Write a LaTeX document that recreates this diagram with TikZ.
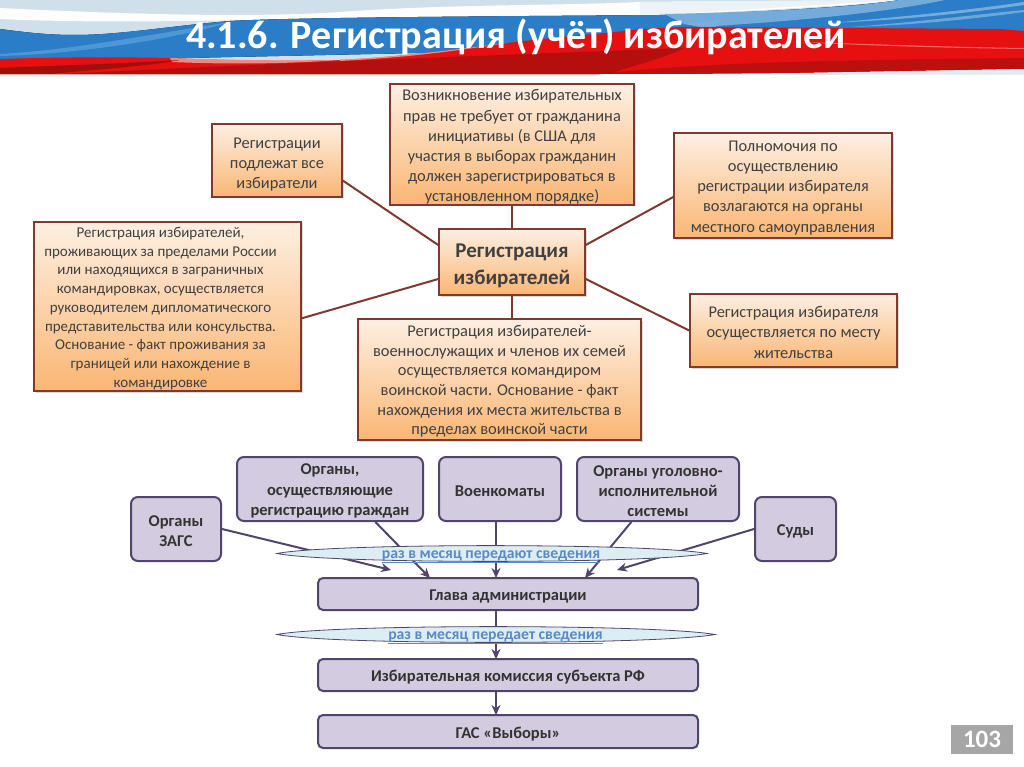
\documentclass[tikz,border=0pt]{standalone}
\usepackage{fontspec}
\setmainfont{Carlito}
\usetikzlibrary{shadows,arrows.meta,calc}
\definecolor{obord}{HTML}{7E3A30}
\definecolor{otop}{HTML}{FDEFE2}
\definecolor{obot}{HTML}{FAB673}
\definecolor{pfill}{HTML}{D3CBDF}
\definecolor{pbord}{HTML}{50456A}
\definecolor{tgray}{HTML}{404040}
\definecolor{lensfill}{HTML}{DCEEF4}
\definecolor{lenstxt}{HTML}{5B8AC4}
\definecolor{bpale}{HTML}{CFE0EA}
\definecolor{bblue}{HTML}{2A7DC6}
\definecolor{blight}{HTML}{6FAEE0}
\definecolor{bred}{HTML}{E5100F}
\definecolor{bdark}{HTML}{8E0F0C}
\definecolor{bpink}{HTML}{F08A80}
\newcommand\LL{\hspace*{-14pt}}
\newcommand\FF[1][15pt]{\rule{0pt}{#1}}
\tikzset{
 obox/.style={draw=obord,line width=1.8pt,top color=otop,bottom color=obot,inner sep=0pt,align=center,text=tgray,
   font=\fontsize{16.4}{20.2}\selectfont,drop shadow={shadow xshift=1.5pt,shadow yshift=-1.5pt,opacity=.3}},
 pbox/.style={draw=pbord,line width=2pt,fill=pfill,rounded corners=7pt,inner sep=0pt,align=center,text=black!80,
   font=\fontsize{16.5}{20.4}\selectfont\bfseries},
 olink/.style={draw=obord,line width=2pt},
 plink/.style={draw=pbord,line width=2pt},
 parrow/.style={plink,-{Stealth[length=10pt,width=9pt]}},
 lens/.style={draw=pbord,line width=.8pt,fill=lensfill},
 lenstext/.style={text=lenstxt,font=\fontsize{15.7}{18}\selectfont\bfseries,inner sep=0pt},
}
\begin{document}
\begin{tikzpicture}[x=1pt,y=-1pt]
\useasboundingbox (0,0) rectangle (1024,767);
\fill[white] (0,0) rectangle (1024,767);
% banner
\fill[bpale] (0,0) rectangle (1024,60);
\fill[white!95!bpale] (0,8) .. controls (120,14) and (250,18) .. (340,12) .. controls (450,4) and (550,6) .. (640,2) -- (900,0) .. controls (850,6) and (760,10) .. (684,14) -- (684,22) .. controls (600,18) and (450,18) .. (340,18) .. controls (250,20) and (100,24) .. (0,19) -- cycle;
\fill[white!60!bpale] (640,2) -- (900,0) -- (640,16) -- cycle;
\fill[left color=bblue,right color=bblue] (0,29) .. controls (30,33) and (50,35) .. (75,35) .. controls (120,35) and (170,26) .. (230,21) .. controls (300,17) and (550,16) .. (660,15) .. controls (720,14) and (850,8) .. (900,0) -- (1024,0) -- (1024,40) -- (0,62) -- cycle;
\fill[blight,opacity=.55] (0,54) .. controls (70,50) and (130,38) .. (230,22) .. controls (180,38) and (80,54) .. (0,56) -- cycle;
\fill[white!35!bblue] (664,14) .. controls (760,12) and (850,8) .. (900,0) -- (945,0) .. controls (880,14) and (780,22) .. (700,27) -- (684,24) -- cycle;
\fill[white!45!bblue,opacity=.8] (830,23) .. controls (900,17) and (970,10) .. (1024,2) -- (1024,5) .. controls (960,14) and (900,20) .. (830,23) -- cycle;
\fill[white!45!bblue,opacity=.7] (850,27) .. controls (920,22) and (980,14) .. (1024,10) -- (1024,12) .. controls (980,18) and (920,25) .. (850,27) -- cycle;
\fill[white!40!bblue,opacity=.8] (684,24) -- (720,20) -- (715,28) -- cycle;
\fill[bred] (0,59) .. controls (60,57) and (120,57) .. (170,58) .. controls (230,61) and (300,61) .. (340,60) .. controls (400,57) and (450,50) .. (507,43) .. controls (540,39) and (580,35) .. (607,33) .. controls (640,29) and (660,27) .. (700,27) -- (1000,29) -- (1024,31) -- (1024,69) -- (800,73) -- (684,74) -- (0,74) -- cycle;
\fill[bpink] (170,58) .. controls (230,60) and (290,61) .. (340,60) .. controls (300,63) and (240,65) .. (172,62) -- cycle;
\fill[white!55!bred,opacity=.9] (340,59.5) .. controls (400,57) and (450,50) .. (507,43) .. controls (450,52) and (400,58) .. (340,61) -- cycle;
\fill[bdark,opacity=.8] (0,68) .. controls (40,66) and (120,64) .. (180,60) .. controls (150,66) and (90,70) .. (50,74) -- (0,74) -- cycle;
\fill[bdark,opacity=.55] (60,74) .. controls (300,62) and (480,56) .. (684,48) .. controls (660,60) and (630,66) .. (610,74) -- cycle;
\fill[bdark,opacity=.45] (600,74) .. controls (700,62) and (850,60) .. (1024,58) -- (1024,69) -- (800,73) -- cycle;
\fill[white!60!bred,opacity=.6] (800,42) .. controls (870,44) and (950,47) .. (1024,48) -- (1024,49) .. controls (950,48) and (870,46) .. (800,42) -- cycle;
\fill[bpink,opacity=.7] (0,74) rectangle (600,75.5);
\fill[bpale!60!white] (800,73) -- (1024,69) -- (1024,75) -- (800,75) -- cycle;
\node[text=white,font=\fontsize{40}{42}\selectfont\bfseries,inner sep=0pt] (title) at (516,37) {4.1.6. Регистрация (учёт) избирателей};
% orange boxes
\node[obox,minimum width=244pt,minimum height=121pt] (top) at (512,144.5) {\FF[16.5pt]Возникновение избирательных\\прав не требует от гражданина\\инициативы (в США для\\участия в выборах гражданин\\должен зарегистрироваться в\\установленном порядке)};
\node[obox,minimum width=130pt,minimum height=73pt] (all) at (277,160.5) {\FF[19pt]Регистрации\\подлежат все\\избиратели};
\node[obox,minimum width=218pt,minimum height=105pt] (local) at (783,185.5) {\FF Полномочия по\\осуществлению\\регистрации избирателя\\возлагаются на органы\\местного самоуправления};
\node[obox,minimum width=267pt,minimum height=169pt,font=\fontsize{15}{18.75}\selectfont] (abroad) at (167.5,306.5) {\FF[14pt]\LL Регистрация избирателей,\\\LL проживающих за пределами России\\\LL или находящихся в заграничных\\\LL командировках, осуществляется\\\LL руководителем дипломатического\\\LL представительства или консульства.\\\LL Основание - факт проживания за\\\LL границей или нахождение в\\\LL командировке};
\node[obox,minimum width=146pt,minimum height=66pt,font=\fontsize{21}{27}\selectfont\bfseries] (center) at (512,262) {\FF[22pt]Регистрация\\избирателей};
\node[obox,minimum width=207pt,minimum height=73pt] (place) at (793.5,330.5) {\FF Регистрация избирателя\\осуществляется по месту\\жительства};
\node[obox,minimum width=283pt,minimum height=121pt,font=\fontsize{16.4}{19.6}\selectfont] (mil) at (499.5,379.5) {\FF Регистрация избирателей-\\военнослужащих и членов их семей\\осуществляется командиром\\воинской части. Основание - факт\\нахождения их места жительства в\\пределах воинской части};
% orange links
\draw[olink] (all.-17.5) -- (center.167);
\draw[olink] (top.south) -- (center.north);
\draw[olink] (local.186) -- (center.13);
\draw[olink] (abroad.-5) -- (center.193);
\draw[olink] (center.-13) -- (place.west);
\draw[olink] (center.south) -- (center.south|-mil.north);
% purple boxes
\node[pbox,minimum width=90pt,minimum height=64pt] (zags) at (176,529) {\FF Органы\\ЗАГС};
\node[pbox,minimum width=186pt,minimum height=64pt] (reg) at (330,489) {\FF Органы,\\осуществляющие\\регистрацию граждан};
\node[pbox,minimum width=122pt,minimum height=64pt] (voen) at (500,489) {\FF[16pt]Военкоматы};
\node[pbox,minimum width=162pt,minimum height=64pt] (uis) at (658,489) {\FF Органы уголовно-\\исполнительной\\системы};
\node[pbox,minimum width=81pt,minimum height=64pt] (sud) at (795.5,529) {\FF[16pt]Суды};
\node[pbox,minimum width=380pt,minimum height=32pt,rounded corners=5pt] (glava) at (508,594) {\FF[16pt]Глава администрации};
\node[pbox,minimum width=380pt,minimum height=32pt,rounded corners=5pt] (izb) at (508,675) {\FF[16pt]Избирательная комиссия субъекта РФ};
\node[pbox,minimum width=380pt,minimum height=33pt,rounded corners=5pt] (gas) at (508,731.5) {\FF[16pt]ГАС «Выборы»};
\coordinate (zagsend) at (391,570);
\coordinate (sudend) at (617,570);
\coordinate (regend) at (430,578);
\coordinate (uisend) at (585,578);
\coordinate (voenend) at (496,578);
\coordinate (voenstart) at (496,521);
\coordinate (gtop) at (496,610);
\coordinate (gbot) at (496,659);
\coordinate (itop) at (496,691);
\coordinate (ibot) at (496,715);
\draw[parrow] (zags.east) -- (zagsend);
\draw[parrow] (reg.-36) -- (regend);
\draw[parrow] (voenstart) -- (voenend);
\draw[parrow] (uis.231) -- (uisend);
\draw[parrow] (sud.west) -- (sudend);
\draw[parrow] (gtop) -- (gbot);
\draw[parrow] (itop) -- (ibot);
% lenses
\draw[lens] (277,553.5) .. controls (330,543) and (650,543) .. (707,553.5) .. controls (650,564) and (330,564) .. (277,553.5) -- cycle;
\node[lenstext] (m1) at (491,557) {\underline{раз в месяц передают сведения}};
\draw[lens] (277,634.5) .. controls (330,624) and (655,624) .. (715,634.5) .. controls (655,645) and (330,645) .. (277,634.5) -- cycle;
\node[lenstext] (m2) at (495.5,638) {\underline{раз в месяц передает сведения}};
% page number
\node[fill=black!35,text=white,minimum width=62pt,minimum height=29pt,inner sep=0pt,font=\fontsize{25}{28}\selectfont\bfseries] (page) at (982,739.5) {103};
\end{tikzpicture}
\end{document}
